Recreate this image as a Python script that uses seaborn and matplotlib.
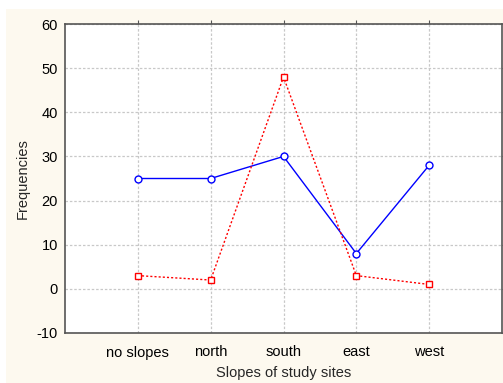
import matplotlib
matplotlib.use("Agg")
import matplotlib.pyplot as plt
import seaborn as sns
import pandas as pd
from matplotlib.patches import Rectangle

# data
slopes = ['no slopes', 'north', 'south', 'east', 'west']
series_blue = [25, 25, 30, 8, 28]
series_red = [3, 2, 48, 3, 1]

df = pd.DataFrame({'slope': slopes, 'blue': series_blue, 'red': series_red})
df['pos'] = range(len(slopes))

sns.set_style("white")
plt.rcParams['font.family'] = ['Liberation Sans', 'DejaVu Sans']
plt.rcParams['axes.unicode_minus'] = False

fig = plt.figure(figsize=(5.03, 3.83), dpi=100)
fig.patch.set_facecolor('white')
fig.patches.append(Rectangle((6 / 503, 0), 1, 1 - 9 / 383, transform=fig.transFigure,
                             facecolor='#fdf9ef', edgecolor='none', zorder=-10))

ax = fig.add_axes([65 / 503, 1 - 333 / 383, 437 / 503, 309 / 383])
ax.set_facecolor('white')

sns.lineplot(data=df, x='pos', y='blue', ax=ax, color='blue', linewidth=1,
             marker='o', markersize=5, markerfacecolor='white', markeredgecolor='blue',
             markeredgewidth=1)
sns.lineplot(data=df, x='pos', y='red', ax=ax, color='red', linewidth=1,
             linestyle=(0, (1.5, 1.5)), marker='s', markersize=5,
             markerfacecolor='white', markeredgecolor='red', markeredgewidth=1)

ax.set_xlim(-1, 5)
ax.set_ylim(-10, 60)
ax.set_xticks(range(len(slopes)))
ax.set_xticklabels(slopes)
ax.set_yticks(range(-10, 61, 10))
ax.grid(True, color='#c8c8c8', linestyle=(0, (2, 1.5)), linewidth=0.9)
ax.set_axisbelow(True)

for s in ax.spines.values():
    s.set_color('#555555')
    s.set_linewidth(1.2)
    s.set_visible(True)

ax.tick_params(axis='both', which='both', labelsize=10.5, labelcolor='black',
               color='#555555', length=3, width=0.8, direction='out', pad=2)
ax.tick_params(axis='x', pad=6)
ax.tick_params(axis='both', top=True, right=True)

ax.set_xlabel('Slopes of study sites', fontsize=10.5, labelpad=5)
ax.set_ylabel('Frequencies', fontsize=10.5, labelpad=5)

fig.savefig('out.png', dpi=100)
